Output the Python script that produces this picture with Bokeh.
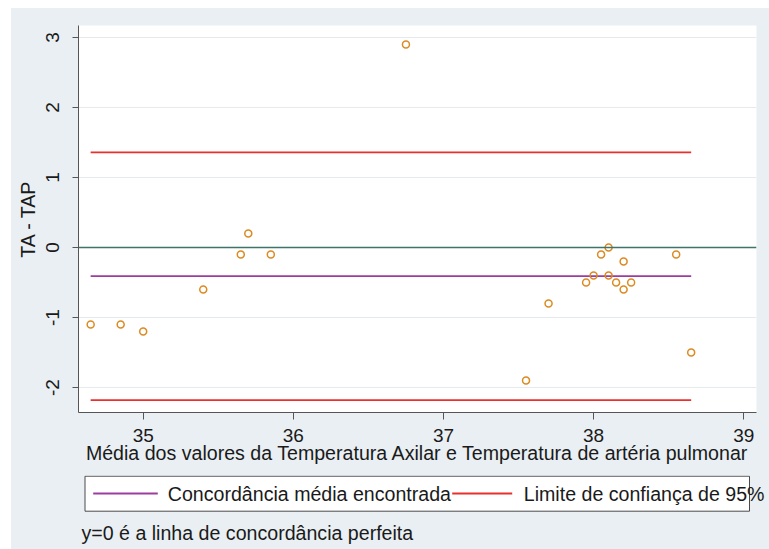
from bokeh.plotting import figure
from bokeh.layouts import column
from bokeh.models import Range1d, FixedTicker, Span, ColumnDataSource
from bokeh.core.properties import value
from bokeh.embed import file_html
from bokeh.resources import INLINE

# Bland-Altman: mean of axillary (TA) and pulmonary artery (TAP) temperature vs. difference
media = [34.65, 34.85, 35.00, 35.40, 35.65, 35.70, 35.85, 36.75, 37.55, 37.70, 37.95,
         38.00, 38.05, 38.10, 38.10, 38.15, 38.20, 38.20, 38.25, 38.55, 38.65]
diferenca = [-1.1, -1.1, -1.2, -0.6, -0.1, 0.2, -0.1, 2.9, -1.9, -0.8, -0.5,
             -0.4, -0.1, 0.0, -0.4, -0.5, -0.2, -0.6, -0.5, -0.1, -1.5]
concordancia_media = -0.41
limite_superior = 1.36
limite_inferior = -2.18

x_ticks = [35, 36, 37, 38, 39]
y_ticks = [-2, -1, 0, 1, 2, 3]
y_tick_labels = ["-2", "-1", "0", "1", "2", "3"]

titulo_x = "Média dos valores da Temperatura Axilar e Temperatura de artéria pulmonar"
titulo_y = "TA - TAP"
legenda = ["Concordância média encontrada", "Limite de confiança de 95%"]
nota = "y=0 é a linha de concordância perfeita"

FONT = "Liberation Sans"
BG = "#e9eff3"
INK = "#1a1a1a"
AXIS = "#555555"
ROXO = "#9c3c9f"
VERMELHO = "#e8302c"
VERDE = "#3f7468"
LARANJA = "#dc8a22"

p = figure(width=758, height=467,
           x_range=Range1d(34.569, 39.085), y_range=Range1d(-2.357, 3.171),
           output_backend="svg", toolbar_location=None,
           min_border_left=67, min_border_right=13, min_border_top=17, min_border_bottom=63,
           border_fill_color=BG, background_fill_color="white", outline_line_color=None)
p.frame_align = False

# perfect agreement line
p.add_layout(Span(location=0, dimension="width", line_color=VERDE, line_width=1.6))

# mean agreement and 95% limits, spanning the observed range of means
x0, x1 = min(media), max(media)
linhas = ColumnDataSource(dict(
    x0=[x0, x0, x0], x1=[x1, x1, x1],
    y=[concordancia_media, limite_superior, limite_inferior],
    cor=[ROXO, VERMELHO, VERMELHO],
))
p.segment(x0="x0", x1="x1", y0="y", y1="y", line_color="cor", line_width=1.8, source=linhas)

p.scatter(media, diferenca, marker="circle", size=7, fill_color=None,
          line_color=LARANJA, line_width=1.5)

p.xaxis.ticker = FixedTicker(ticks=x_ticks)
p.yaxis.ticker = FixedTicker(ticks=y_ticks)
p.yaxis.major_label_overrides = dict(zip(y_ticks, y_tick_labels))
p.yaxis.major_label_orientation = "vertical"
p.xaxis.axis_label = titulo_x
p.yaxis.axis_label = titulo_y

for ax in (p.xaxis, p.yaxis):
    ax.axis_line_color = AXIS
    ax.axis_line_width = 1
    ax.major_tick_line_color = AXIS
    ax.minor_tick_line_color = None
    ax.major_tick_in = 0
    ax.major_label_text_font = FONT
    ax.major_label_text_font_size = "19px"
    ax.major_label_text_color = INK
    ax.axis_label_text_font = FONT
    ax.axis_label_text_font_size = "19.6px"
    ax.axis_label_text_font_style = "normal"
    ax.axis_label_text_color = INK

p.xaxis.major_tick_out = 7
p.yaxis.major_tick_out = 6
p.xaxis.major_label_standoff = 9
p.yaxis.major_label_standoff = 13
p.xaxis.axis_label_standoff = -3
p.yaxis.axis_label_standoff = 5

p.xgrid.visible = False
p.ygrid.grid_line_color = "#e6eaec"
p.ygrid.grid_line_width = 1

# legend and note panel (one data unit per pixel)
q = figure(width=758, height=74, x_range=Range1d(0, 758), y_range=Range1d(0, 74),
           output_backend="svg", toolbar_location=None, x_axis_type=None, y_axis_type=None,
           min_border=0, border_fill_color=BG, background_fill_color=BG,
           outline_line_color=None)
q.frame_align = False
q.xgrid.visible = False
q.ygrid.visible = False

q.quad(left=[73.5], right=[738], top=[73.3], bottom=[38.3],
       fill_color="white", line_color="#4a4a4a", line_width=1)
q.segment(x0=[81.7, 440.7], x1=[146.3, 500.7], y0=[56, 56], y1=[56, 56],
          line_color=[ROXO, VERMELHO], line_width=1.8)
q.text(x=[156.3, 512.3, 70], y=[55.3, 55.3, 17], text=legenda + [nota],
       text_baseline="middle", text_align="left", text_font=value(FONT),
       text_font_size="19.6px", text_color=INK)

layout = column(p, q, spacing=0, margin=(8, 0, 0, 11))
layout.styles = {"background-color": BG}

open("out.html", "w").write(file_html(layout, INLINE))
